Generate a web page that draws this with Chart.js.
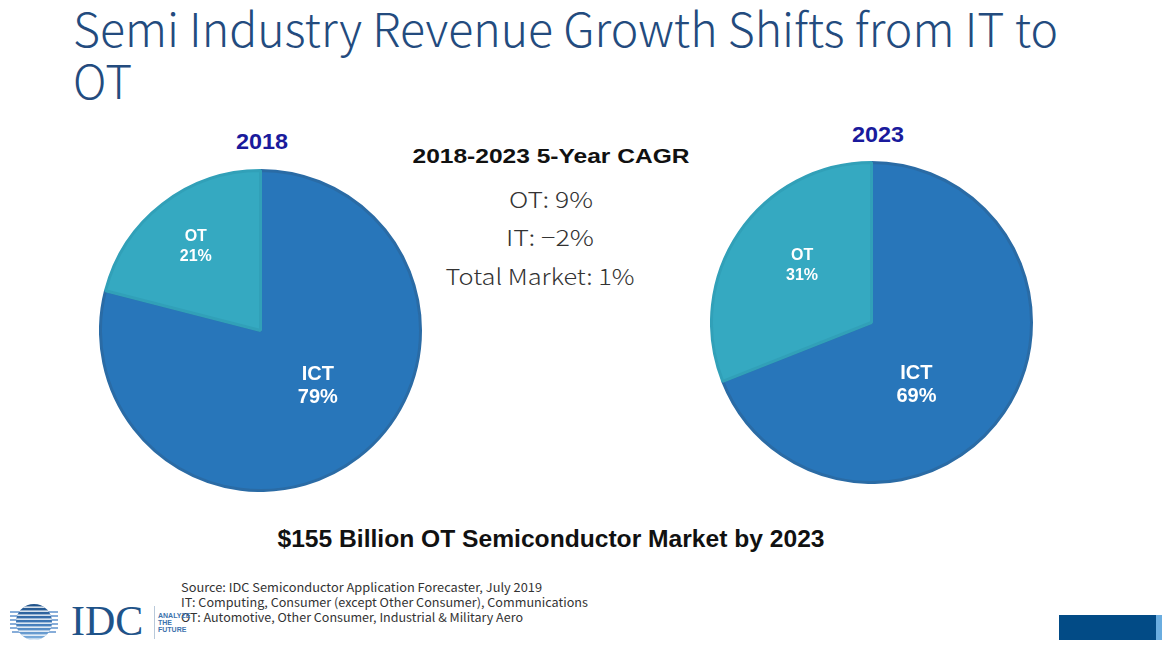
<!DOCTYPE html>
<html><head><meta charset="utf-8">
<script src="https://cdn.jsdelivr.net/npm/chart.js@4"></script>
<style>
html,body{margin:0;padding:0}
body{width:1165px;height:659px;background:#fff;position:relative;overflow:hidden;font-family:"Liberation Sans",Arial,sans-serif}
.t{position:absolute;white-space:nowrap;line-height:1}
.title{font-family:"Noto Sans CJK KR","Lato",sans-serif;font-weight:300;font-size:46px;color:#234b7e;left:73px}
.year{font-weight:bold;font-size:22px;color:#1a1a9c}
.cagrH{font-weight:bold;font-size:21px;color:#111}
.cagr{font-family:"Noto Sans CJK KR","Noto Sans",sans-serif;font-weight:300;font-size:22px;color:#333}
.bottom{font-weight:bold;font-size:23px;color:#111}
.src{font-family:"Noto Sans CJK KR","Noto Sans",sans-serif;font-size:12px;color:#333;left:181px}
.pie{position:absolute;width:323px;height:323px}
</style></head><body>

<div class="t title" id="title1" data-w="985" data-o="left" style="top:4px">Semi Industry Revenue Growth Shifts from IT to</div>
<div class="t title" id="title2" style="top:56px">OT</div>

<div class="t year" id="y2018" data-w="52" data-o="center" style="top:131px;left:212px;width:100px;text-align:center"></div>
<div class="t year" id="y2023" data-w="52" data-o="center" style="top:124px;left:828px;width:100px;text-align:center"></div>

<div class="t cagrH" id="cagrH" data-w="277" data-o="center" style="top:145px;left:351px;width:400px;text-align:center"></div>
<div id="cagrBox"></div>

<div class="t bottom" id="bottomText" data-w="547" data-o="center" style="top:528px;left:251px;width:600px;text-align:center"></div>

<div class="t src" data-w="361" data-o="left" style="top:581px">Source: IDC Semiconductor Application Forecaster, July 2019</div>
<div class="t src" data-w="407" data-o="left" style="top:596px">IT: Computing, Consumer (except Other Consumer), Communications</div>
<div class="t src" data-w="342" data-o="left" style="top:611px">OT: Automotive, Other Consumer, Industrial &amp; Military Aero</div>

<svg style="position:absolute;left:0;top:595px" width="200" height="55">
  <defs>
    <clipPath id="cc"><circle cx="34" cy="27" r="18"/></clipPath>
    <linearGradient id="lg" x1="0" y1="0" x2="0" y2="1">
      <stop offset="0" stop-color="#1d4f86"/><stop offset="0.5" stop-color="#3f78b8"/><stop offset="1" stop-color="#8fbde6"/>
    </linearGradient>
  </defs>
  <g stroke="#5f92cc" stroke-width="1.3">
    <line x1="10" y1="17" x2="58" y2="17"/><line x1="10" y1="21" x2="58" y2="21"/>
    <line x1="10" y1="25" x2="58" y2="25"/><line x1="10" y1="29" x2="58" y2="29"/>
    <line x1="10" y1="33" x2="58" y2="33"/><line x1="12" y1="37" x2="56" y2="37"/>
  </g>
  <g clip-path="url(#cc)">
    <rect x="14" y="8" width="40" height="40" fill="url(#lg)"/>
    <g fill="#fff"><rect x="10" y="11.5" width="50" height="1.3"/><rect x="10" y="15.5" width="50" height="1.3"/>
    <rect x="10" y="19.5" width="50" height="1.3"/><rect x="10" y="23.5" width="50" height="1.3"/>
    <rect x="10" y="27.5" width="50" height="1.3"/><rect x="10" y="31.5" width="50" height="1.3"/>
    <rect x="10" y="35.5" width="50" height="1.3"/><rect x="10" y="39.5" width="50" height="1.3"/><rect x="10" y="43.5" width="50" height="1.3"/></g>
  </g>
  <text x="71" y="40" font-family="Liberation Serif,serif" font-size="42" fill="#1f5389">IDC</text>
  <line x1="154.5" y1="11" x2="154.5" y2="44" stroke="#b9c9da" stroke-width="1"/>
  <g font-family="Liberation Sans,Arial" font-size="7" fill="#3d72ad" font-weight="bold">
    <text x="158" y="23">ANALYZE</text><text x="158" y="30">THE</text><text x="158" y="37">FUTURE</text>
  </g>
</svg>

<div style="position:absolute;left:1059px;top:615px;width:97px;height:25px;background:#024b86"></div>
<div style="position:absolute;left:1156px;top:615px;width:6px;height:25px;background:#6aade0"></div>

<div class="pie" style="left:99px;top:168.5px"><canvas id="pie2018"></canvas></div>
<div class="pie" style="left:710px;top:161px"><canvas id="pie2023"></canvas></div>

<script>
// ---- data ----
const categories = ['ICT', 'OT'];
const years = ['2018', '2023'];
const share2018 = [79, 21];
const share2023 = [69, 31];
const cagrTitle = '2018-2023 5-Year CAGR';
const cagrLabels = ['OT', 'IT', 'Total Market'];
const cagrValues = [9, -2, 1];
const marketHeadline = '$155 Billion OT Semiconductor Market by 2023';

// ---- text ----
document.getElementById('y2018').textContent = years[0];
document.getElementById('y2023').textContent = years[1];
document.getElementById('cagrH').textContent = cagrTitle;
document.getElementById('bottomText').textContent = marketHeadline;
const cagrTops = [187, 225, 264];
const cagrWidths = [84, 88, 189];
const cagrCenters = [551, 550, 540];
const box = document.getElementById('cagrBox');
cagrLabels.forEach((l, i) => {
  const v = cagrValues[i];
  const d = document.createElement('div');
  d.className = 't cagr';
  d.style.cssText = `top:${cagrTops[i]}px;left:${cagrCenters[i] - 200}px;width:400px;text-align:center`;
  d.dataset.w = cagrWidths[i]; d.dataset.o = 'center';
  d.textContent = `${l}: ${v < 0 ? '\u2212' + Math.abs(v) : v}%`;
  box.appendChild(d);
});

function fitWidths() {
  document.querySelectorAll('[data-w]').forEach(el => {
    el.style.transform = '';
    const r = document.createRange(); r.selectNodeContents(el);
    const w = r.getBoundingClientRect().width;
    if (w > 0) { el.style.transformOrigin = el.dataset.o === 'left' ? 'left center' : 'center center';
      el.style.transform = `scaleX(${(+el.dataset.w / w).toFixed(4)})`; }
  });
}
fitWidths();
if (document.fonts && document.fonts.ready) document.fonts.ready.then(fitWidths);

// ---- charts ----
const sliceLabels = {
  id: 'sliceLabels',
  afterDatasetsDraw(chart, args, opts) {
    const ctx = chart.ctx;
    const meta = chart.getDatasetMeta(0);
    meta.data.forEach((arc, i) => {
      const p = arc.getProps(['x', 'y', 'startAngle', 'endAngle', 'outerRadius'], true);
      const mid = (p.startAngle + p.endAngle) / 2 + opts.shift[i] * Math.PI / 180;
      const cx = p.x + Math.cos(mid) * p.outerRadius * opts.radial[i];
      const cy = p.y + Math.sin(mid) * p.outerRadius * opts.radial[i];
      const s = opts.sizes[i], lh = opts.lineH[i];
      ctx.save();
      ctx.fillStyle = '#fff';
      ctx.font = `bold ${s}px "Liberation Sans", Arial, sans-serif`;
      ctx.textAlign = 'center'; ctx.textBaseline = 'middle';
      ctx.fillText(chart.data.labels[i], cx, cy - lh / 2);
      ctx.fillText(chart.data.datasets[0].data[i] + '%', cx, cy + lh / 2);
      ctx.restore();
    });
  }
};

function makePie(id, values, labelOpts) {
  return new Chart(document.getElementById(id), {
    type: 'pie',
    data: {
      labels: categories,
      datasets: [{
        data: values,
        backgroundColor: ['#2876ba', '#35a9c1'],
        borderColor: ['#2a6ba5', '#31a0b8'],
        borderWidth: 3
      }]
    },
    options: {
      responsive: true, maintainAspectRatio: false, animation: false,
      layout: { padding: 0 },
      plugins: { legend: { display: false }, tooltip: { enabled: false }, sliceLabels: labelOpts }
    },
    plugins: [sliceLabels]
  });
}
makePie('pie2018', share2018, { radial: [0.5, 0.66], shift: [-8, 0], sizes: [20, 16], lineH: [23, 20] });
makePie('pie2023', share2023, { radial: [0.48, 0.56], shift: [20, 5], sizes: [20, 16], lineH: [23, 20] });
</script>
</body></html>
